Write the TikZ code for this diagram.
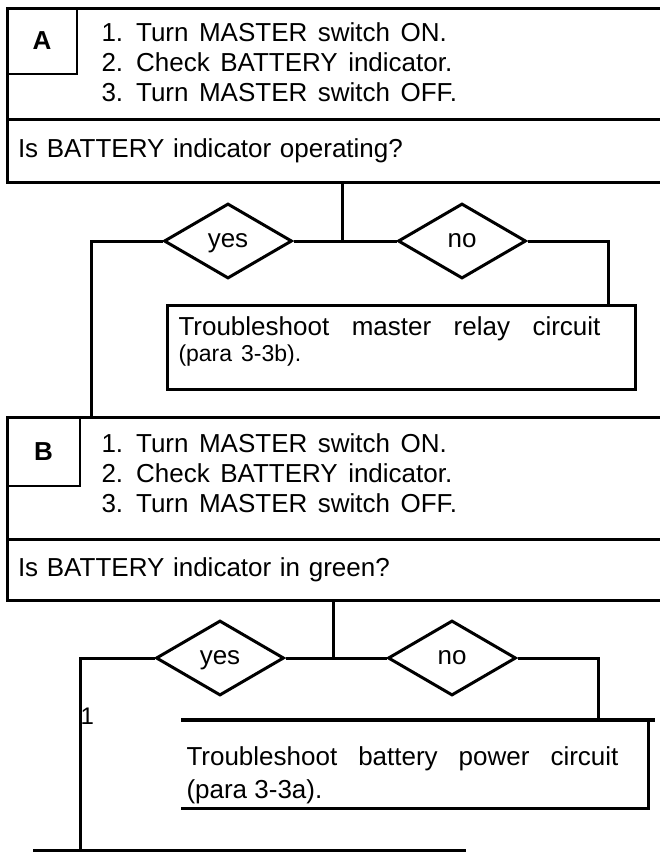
\documentclass[tikz,border=0pt]{standalone}
\usepackage{fontspec}
\setmainfont{Liberation Sans}
\usetikzlibrary{positioning,calc,shapes.geometric}
\newcommand{\widespace}{\spaceskip=10.5pt\relax}

\begin{document}
\begin{tikzpicture}[x=1pt,y=-1pt,line width=3pt,
  panel/.style={draw,minimum width=700pt,anchor=north west,inner sep=0pt,outer sep=0pt},
  tag/.style={draw,line width=2.5pt,minimum width=70pt,minimum height=66pt,anchor=north west,outer sep=0pt,font=\fontsize{26}{30}\selectfont\bfseries},
  steps/.style={align=left,anchor=west,inner sep=0pt,font=\fontsize{26}{30}\selectfont},
  ask/.style={draw,anchor=north west,text width=680pt,inner xsep=11pt,inner ysep=0pt,outer sep=0pt,align=left,font=\fontsize{26}{30}\selectfont},
  choice/.style={draw,diamond,minimum width=128pt,minimum height=75pt,inner sep=0pt,text height=13.5pt,text depth=0pt,font=\fontsize{26}{30}\selectfont},
  fix/.style={anchor=north west,inner sep=0pt,outer sep=0pt,minimum width=468pt,minimum height=84pt},
  fixtext/.style={align=left,anchor=north west,inner sep=0pt}]
\useasboundingbox (0,0) rectangle (660,852);

% block A
\node[panel,minimum height=111pt] (panelA) at (7,8) {};
\node[tag] (tagA) at (7,8) {A};
\node[steps] (stepsA) at (100,62) {\widespace 1. Turn MASTER switch ON.\\\widespace 2. Check BATTERY indicator.\\\widespace 3. Turn MASTER switch OFF.};
\node[ask,minimum height=63pt] (askA) at (panelA.south west) {Is BATTERY indicator operating?};
\coordinate (hubA) at (342,241);
\node[choice] (yesA) at (228,241) {yes};
\node[choice] (noA) at (462,241) {no};
\node[fix,draw] (fixA) at (167,305) {};
\node[fixtext,font=\fontsize{26}{26}\selectfont] (fixtxtA) at (177,315) {\makebox[422pt][s]{Troubleshoot master relay circuit}\\{\fontsize{23}{26}\selectfont\spaceskip=9pt\relax (para 3-3b).}};

% block B
\node[panel,minimum height=122pt] (panelB) at (7,417) {};
\node[tag,minimum width=73pt,minimum height=69pt] (tagB) at (7,417) {B};
\node[steps] (stepsB) at (100,473) {\widespace 1. Turn MASTER switch ON.\\\widespace 2. Check BATTERY indicator.\\\widespace 3. Turn MASTER switch OFF.};
\node[ask,minimum height=61pt] (askB) at (panelB.south west) {Is BATTERY indicator in green?};
\coordinate (hubB) at (333,658);
\node[choice] (yesB) at (220,658) {yes};
\node[choice] (noB) at (452,658) {no};
\node[fix,minimum width=467pt,minimum height=88pt] (fixB) at (181,720) {};
\node[fixtext,font=\fontsize{26}{33}\selectfont] (fixtxtB) at (185,745) {\makebox[432pt][s]{Troubleshoot battery power circuit}\\(para 3-3a).};
\coordinate (nextL) at (33,850);
\coordinate (nextR) at (466,850);
\node[anchor=west,inner sep=0pt,font=\fontsize{24}{24}\selectfont] (tick) at (79,716) {1};

% connectors A
\draw (askA.south -| hubA) -- (hubA);
\draw (yesA) -- (noA);
\draw (yesA.west) -| ([xshift=84pt]panelB.north west);
\draw (noA.east) -| ([xshift=441pt]fixA.north west);

% connectors B
\draw (askB.south -| hubB) -- (hubB);
\draw (yesB) -- (noB);
\draw (noB.east) -| ([xshift=417pt]fixB.north west);
\draw (yesB.west) -| ([xshift=47pt]nextL);
\draw (nextL) -- (nextR);
\draw[line width=4pt] (fixB.north west) -- ([xshift=7pt]fixB.north east);
\draw (fixB.north east) |- (fixB.south west);
\end{tikzpicture}
\end{document}
